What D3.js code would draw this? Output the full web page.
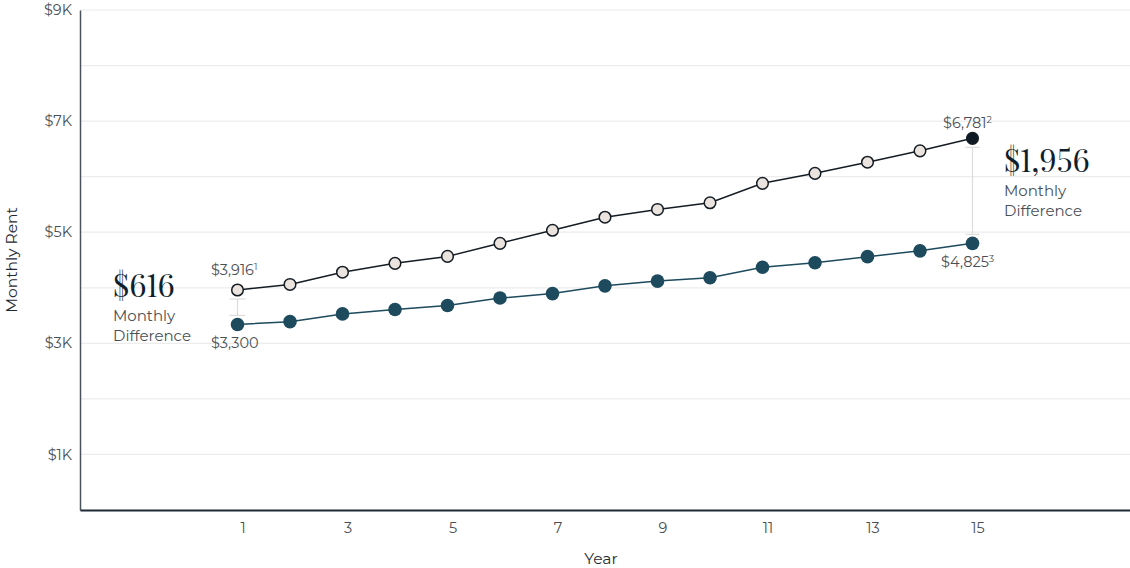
<!DOCTYPE html>
<html>
<head>
    <meta charset="utf-8">
    <script src="https://d3js.org/d3.v7.min.js"></script>
    <style>
        html, body { margin: 0; padding: 0; background: #fff; }
        #chart { width: 1130px; height: 568px; }
        text { font-family: Montserrat, Inter, "Noto Sans", sans-serif; }
        .amount { font-variant-numeric: lining-nums; font-feature-settings: "lnum" 1; }
    </style>
</head>
<body>
<div id="chart"></div>
<script>
    // values
    var years = [1, 2, 3, 4, 5, 6, 7, 8, 9, 10, 11, 12, 13, 14, 15];
    var marketRent = [3960, 4060, 4280, 4440, 4565, 4800, 5035, 5270, 5410, 5530, 5880, 6060, 6260, 6465, 6690];
    var ourRent = [3340, 3390, 3530, 3610, 3680, 3815, 3895, 4035, 4120, 4180, 4370, 4450, 4560, 4665, 4800];
    var yTicks = [1000, 3000, 5000, 7000, 9000];
    var xTicks = [1, 3, 5, 7, 9, 11, 13, 15];
    var startLabels = ["$3,916", "1", "$3,300"];
    var endLabels = ["$6,781", "2", "$4,825", "3"];
    var diffLabels = ["$616", "$1,956"];

    function drawChart() {
        var width = 1130, height = 568;
        var plotLeft = 80, plotRight = 1130, plotTop = 10, plotBottom = 510;

        var svg = d3.select("#chart").append("svg")
            .attr("width", width)
            .attr("height", height);

        var x = d3.scaleLinear().domain([-2, 18]).range([plotLeft, plotRight]);
        var y = d3.scaleLinear().domain([0, 9000]).range([plotBottom, plotTop]);

        // grid
        svg.append("g")
            .selectAll("line")
            .data(d3.range(1000, 9001, 1000))
            .enter().append("line")
            .attr("x1", plotLeft).attr("x2", plotRight)
            .attr("y1", function (d) { return y(d); })
            .attr("y2", function (d) { return y(d); })
            .attr("stroke", "#ececec")
            .attr("stroke-width", 1.2);

        // y axis
        var yAxis = svg.append("g")
            .attr("transform", "translate(" + plotLeft + ",0)")
            .call(d3.axisLeft(y).tickValues(yTicks).tickSize(0).tickPadding(8)
                .tickFormat(function (d) { return "$" + d / 1000 + "K"; }));
        yAxis.select(".domain").attr("stroke", "#4a535c").attr("stroke-width", 1.5);
        yAxis.selectAll("text").attr("font-size", 14.5).attr("fill", "#4a4f55")
            .style("font-family", "Montserrat, Inter, 'Noto Sans', sans-serif");

        // x axis
        var xAxis = svg.append("g")
            .attr("transform", "translate(0," + plotBottom + ")")
            .call(d3.axisBottom(x).tickValues(xTicks).tickSize(0).tickPadding(13));
        xAxis.select(".domain").attr("stroke", "#1c2a35").attr("stroke-width", 2);
        xAxis.selectAll("text").attr("font-size", 14.5).attr("fill", "#4a4f55").attr("dx", 5)
            .style("font-family", "Montserrat, Inter, 'Noto Sans', sans-serif");

        svg.append("text")
            .attr("x", 601).attr("y", 564)
            .attr("text-anchor", "middle")
            .attr("font-size", 15.5).attr("fill", "#1f2a33")
            .text("Year");

        svg.append("text")
            .attr("transform", "translate(17,260)rotate(-90)")
            .attr("text-anchor", "middle")
            .attr("font-size", 15.5).attr("fill", "#1f2a33")
            .text("Monthly Rent");

        // difference brackets
        var brackets = [
            { i: 0, half: 8 },
            { i: 14, half: 7 }
        ];
        brackets.forEach(function (b) {
            var cx = x(years[b.i]);
            var y1 = y(marketRent[b.i]) + 9, y2 = y(ourRent[b.i]) - 9;
            var g = svg.append("g").attr("stroke", "#dcdcdc").attr("stroke-width", 1.2);
            g.append("line").attr("x1", cx).attr("x2", cx).attr("y1", y1).attr("y2", y2);
            g.append("line").attr("x1", cx - b.half).attr("x2", cx + b.half).attr("y1", y1).attr("y2", y1);
            g.append("line").attr("x1", cx - b.half).attr("x2", cx + b.half).attr("y1", y2).attr("y2", y2);
        });

        var line = d3.line()
            .x(function (d, i) { return x(years[i]); })
            .y(function (d) { return y(d); });

        svg.append("path")
            .datum(ourRent)
            .attr("d", line)
            .attr("fill", "none")
            .attr("stroke", "#1d4a5c")
            .attr("stroke-width", 1.5);

        svg.append("path")
            .datum(marketRent)
            .attr("d", line)
            .attr("fill", "none")
            .attr("stroke", "#141c24")
            .attr("stroke-width", 1.5);

        svg.append("g")
            .selectAll("circle")
            .data(ourRent)
            .enter().append("circle")
            .attr("cx", function (d, i) { return x(years[i]); })
            .attr("cy", function (d) { return y(d); })
            .attr("r", 6.8)
            .attr("fill", "#1d4a5c");

        svg.append("g")
            .selectAll("circle")
            .data(marketRent)
            .enter().append("circle")
            .attr("cx", function (d, i) { return x(years[i]); })
            .attr("cy", function (d) { return y(d); })
            .attr("r", 5.8)
            .attr("fill", function (d, i) { return i === marketRent.length - 1 ? "#0d1a25" : "#ebe3de"; })
            .attr("stroke", "#141c24")
            .attr("stroke-width", 1.5);

        // value labels
        function valueLabel(tx, ty, main, sup) {
            var t = svg.append("text")
                .attr("x", tx).attr("y", ty)
                .attr("font-size", 14.5).attr("fill", "#4a4f55");
            t.append("tspan").text(main);
            if (sup) {
                t.append("tspan").attr("font-size", 9.5).attr("dy", -5).text(sup);
            }
        }
        valueLabel(211, 275, startLabels[0], startLabels[1]);
        valueLabel(211, 348, startLabels[2]);
        valueLabel(943, 128, endLabels[0], endLabels[1]);
        valueLabel(941, 267, endLabels[2], endLabels[3]);

        // monthly difference notes
        function diffNote(tx, ty, amount) {
            svg.append("text")
                .attr("class", "amount")
                .attr("x", tx).attr("y", ty)
                .attr("font-size", 31)
                .attr("fill", "#0f1e2c")
                .style("font-family", "'Playfair Display', 'DejaVu Serif', 'Liberation Serif', serif")
                .text(amount);
            svg.append("text")
                .attr("x", tx).attr("y", ty + 24)
                .attr("font-size", 15).attr("fill", "#4a4f55")
                .text("Monthly");
            svg.append("text")
                .attr("x", tx).attr("y", ty + 44)
                .attr("font-size", 15).attr("fill", "#4a4f55")
                .text("Difference");
        }
        diffNote(113, 297, diffLabels[0]);
        diffNote(1004, 172, diffLabels[1]);
    }

    drawChart();
</script>
</body>
</html>
